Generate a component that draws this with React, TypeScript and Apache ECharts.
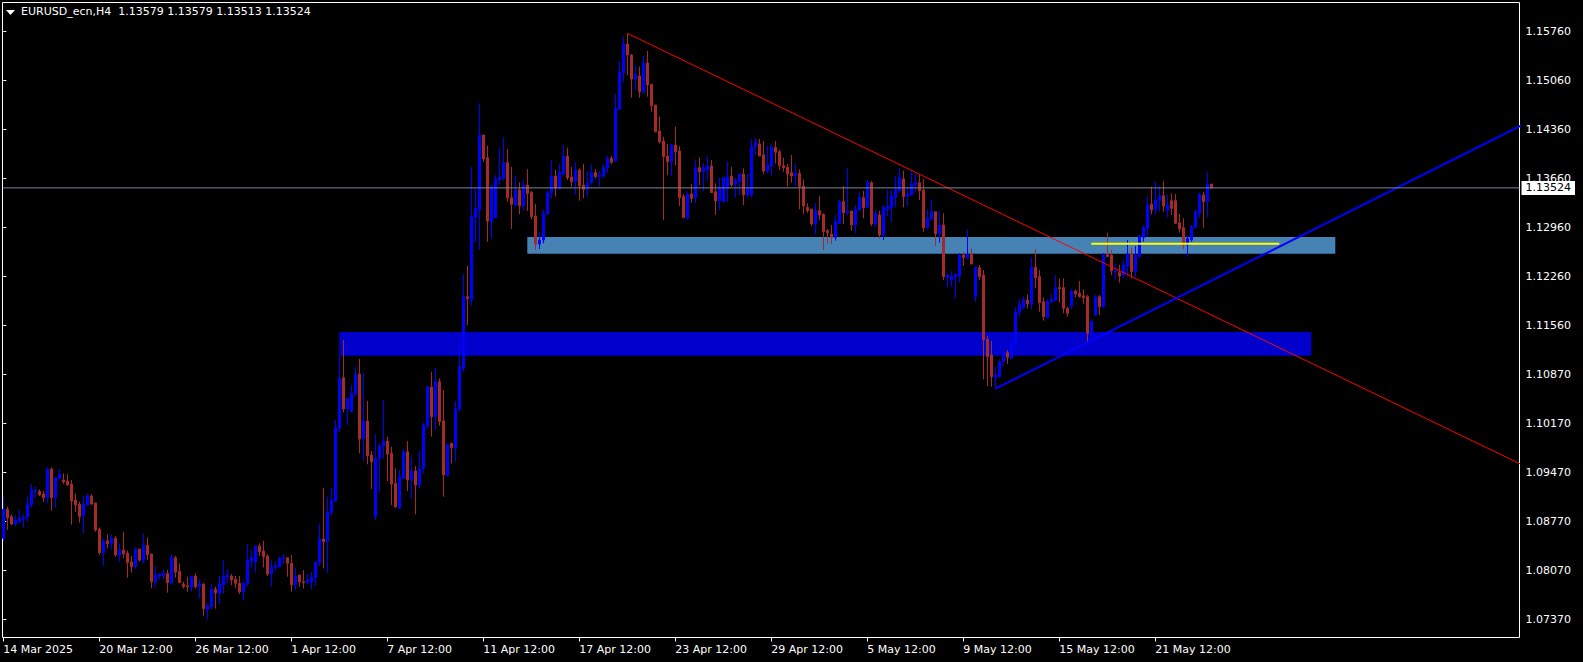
import React, { useEffect, useRef } from "react";
import * as echarts from "echarts";

// ---- data (EURUSD H4) ----
const chartTitle = "EURUSD_ecn,H4";
const lastBarQuote = ["1.13579", "1.13579", "1.13513", "1.13524"]; // O H L C
const bidPrice = 1.13524;

const priceTickValues = [1.0737, 1.0807, 1.0877, 1.0947, 1.1017, 1.1087, 1.1156, 1.1226, 1.1296, 1.1366, 1.1436, 1.1506, 1.1576];
const priceTickLabels = ["1.07370", "1.08070", "1.08770", "1.09470", "1.10170", "1.10870", "1.11560", "1.12260", "1.12960", "1.13660", "1.14360", "1.15060", "1.15760"];

const timeTickBars = [0, 24, 48, 72, 96, 120, 144, 168, 192, 216, 240, 264, 288];
const timeTickLabels = ["14 Mar 2025", "20 Mar 12:00", "26 Mar 12:00", "1 Apr 12:00", "7 Apr 12:00", "11 Apr 12:00", "17 Apr 12:00", "23 Apr 12:00", "29 Apr 12:00", "5 May 12:00", "9 May 12:00", "15 May 12:00", "21 May 12:00"];

// [open, close, low, high]
const candles: number[][] = [
  [1.08529,1.08943,1.08482,1.09123],[1.08943,1.08824,1.08648,1.0898],[1.08838,1.08733,1.08719,1.08871],[1.08733,1.08791,1.08705,1.08862],
  [1.08772,1.08819,1.08743,1.08943],[1.08805,1.08833,1.08681,1.08871],[1.08833,1.09018,1.08767,1.09123],[1.09009,1.09218,1.08971,1.09303],
  [1.09208,1.09218,1.09114,1.09266],[1.09199,1.09147,1.09133,1.09228],[1.09161,1.09109,1.09052,1.09204],[1.09109,1.09517,1.09028,1.09541],
  [1.09517,1.09109,1.08924,1.09541],[1.09109,1.09394,1.08966,1.09408],[1.0938,1.09446,1.0937,1.09517],[1.09361,1.09332,1.09304,1.09456],
  [1.09346,1.09289,1.0928,1.09446],[1.09304,1.09061,1.08724,1.09361],[1.09075,1.09004,1.08905,1.09171],[1.09018,1.08838,1.08753,1.09052],
  [1.08852,1.09018,1.086,1.09133],[1.09009,1.09133,1.0899,1.09161],[1.09133,1.09018,1.09004,1.09161],[1.09033,1.08648,1.08624,1.09033],
  [1.08662,1.08325,1.08292,1.08686],[1.08325,1.08487,1.0814,1.08529],[1.08491,1.08453,1.08387,1.08586],[1.08458,1.08529,1.08372,1.08586],
  [1.08529,1.08292,1.08268,1.08563],[1.08287,1.08363,1.08197,1.08458],[1.08363,1.08311,1.08244,1.08619],[1.0832,1.08183,1.07969,1.08353],
  [1.08192,1.08125,1.0804,1.08277],[1.08125,1.08377,1.08097,1.08401],[1.08377,1.0822,1.08197,1.08377],[1.08211,1.0843,1.08173,1.08591],
  [1.0843,1.08297,1.0822,1.08543],[1.08306,1.07912,1.07817,1.08306],[1.07912,1.08002,1.07831,1.08135],[1.07992,1.08016,1.07945,1.0804],
  [1.07997,1.0803,1.07945,1.08088],[1.0803,1.07898,1.07755,1.08078],[1.07897,1.08253,1.07864,1.08306],[1.08253,1.08049,1.07968,1.08277],
  [1.08059,1.07897,1.07897,1.08173],[1.07878,1.0784,1.07816,1.07911],[1.07854,1.0784,1.07769,1.07983],[1.07831,1.07992,1.07769,1.07992],
  [1.07992,1.0784,1.07816,1.0803],[1.0784,1.07878,1.07674,1.07945],[1.07878,1.07527,1.07427,1.07888],[1.07517,1.07565,1.07374,1.07603],
  [1.07555,1.07802,1.07517,1.07873],[1.07802,1.07755,1.07527,1.0784],[1.07745,1.07878,1.07593,1.07992],[1.07864,1.07992,1.07745,1.0822],
  [1.07978,1.08006,1.07888,1.08087],[1.07992,1.07935,1.07864,1.08021],[1.07945,1.07888,1.07816,1.07992],[1.07888,1.07769,1.07736,1.07992],
  [1.07769,1.07888,1.07641,1.07911],[1.07888,1.0822,1.0784,1.08448],[1.08211,1.08258,1.08116,1.08363],[1.08196,1.0842,1.0804,1.0842],
  [1.0842,1.08339,1.08277,1.08458],[1.08348,1.08268,1.08116,1.08496],[1.08277,1.08021,1.07992,1.08306],[1.08021,1.08116,1.0784,1.0822],
  [1.08116,1.08139,1.08068,1.08196],[1.08125,1.08249,1.08116,1.08268],[1.08239,1.08253,1.08158,1.08306],[1.08253,1.08173,1.07983,1.08253],
  [1.08173,1.07869,1.07769,1.08291],[1.07869,1.07992,1.07793,1.08116],[1.08006,1.07911,1.0784,1.08006],[1.07911,1.07897,1.07816,1.08078],
  [1.07897,1.07935,1.07878,1.08021],[1.07911,1.07973,1.07802,1.08054],[1.07968,1.08192,1.0785,1.08192],[1.08182,1.0852,1.08139,1.08733],
  [1.0852,1.08482,1.08101,1.09251],[1.08482,1.08909,1.0804,1.09123],[1.089,1.09076,1.08852,1.09242],[1.09061,1.10107,1.09052,1.10216],
  [1.10097,1.1081,1.1004,1.11142],[1.10819,1.10373,1.10325,1.11356],[1.10373,1.10525,1.10145,1.10534],[1.10335,1.10596,1.10325,1.10715],
  [1.10586,1.10867,1.10548,1.10976],[1.10871,1.09945,1.09741,1.11085],[1.09954,1.10202,1.09631,1.1089],[1.10202,1.09707,1.09584,1.10487],
  [1.09717,1.09622,1.09232,1.09774],[1.08838,1.09669,1.0879,1.10012],[1.09669,1.0985,1.09185,1.09883],[1.09845,1.09916,1.0966,1.10501],
  [1.09916,1.09731,1.09346,1.09978],[1.09741,1.09304,1.09004,1.09835],[1.09313,1.08981,1.08957,1.09527],[1.08957,1.09408,1.0895,1.09503],
  [1.09384,1.09764,1.09375,1.09802],[1.09764,1.09361,1.09204,1.09916],[1.09361,1.09489,1.09099,1.09693],[1.09489,1.09289,1.08871,1.0956],
  [1.09289,1.09517,1.09242,1.09774],[1.09527,1.10145,1.09456,1.10178],[1.10135,1.10691,1.10088,1.10691],[1.10686,1.10263,1.09978,1.10905],
  [1.10263,1.10762,1.10073,1.10952],[1.10762,1.10192,1.10135,1.1081],[1.10202,1.09432,1.09123,1.10643],[1.09422,1.09869,1.09422,1.09883],
  [1.09883,1.09821,1.09598,1.09893],[1.09821,1.10373,1.09622,1.10487],[1.10373,1.10976,1.10335,1.11332],[1.10952,1.11974,1.10905,1.12297],
  [1.11974,1.11945,1.1157,1.12411],[1.11917,1.13114,1.11845,1.13827],[1.131,1.13232,1.12757,1.13518],[1.13209,1.14278,1.12639,1.14729],
  [1.14278,1.13936,1.13898,1.14278],[1.13955,1.13052,1.12757,1.14126],[1.13043,1.13541,1.12805,1.13574],[1.131,1.13651,1.1309,1.13708],
  [1.13636,1.13679,1.13565,1.14088],[1.1366,1.13883,1.13636,1.14249],[1.13883,1.13385,1.13328,1.14078],[1.13385,1.1329,1.12938,1.13822],
  [1.1328,1.13494,1.13256,1.13698],[1.13494,1.13266,1.13147,1.13603],[1.13266,1.13565,1.13209,1.13636],[1.13565,1.13446,1.13195,1.13793],
  [1.13461,1.13114,1.13076,1.1348],[1.13123,1.12724,1.12639,1.13294],[1.12724,1.12781,1.12653,1.1289],[1.12781,1.13161,1.12734,1.13209],
  [1.13152,1.13461,1.13138,1.1348],[1.13456,1.13693,1.13366,1.13921],[1.13693,1.13518,1.13399,1.13779],[1.13518,1.13746,1.13494,1.1386],
  [1.13722,1.13978,1.13698,1.14135],[1.13978,1.1367,1.13636,1.14097],[1.13679,1.13612,1.13541,1.13822],[1.13612,1.13779,1.13423,1.13897],
  [1.13779,1.13551,1.13342,1.13802],[1.13565,1.13503,1.13375,1.13869],[1.13503,1.13589,1.13399,1.13764],[1.13598,1.13746,1.13574,1.1386],
  [1.13746,1.13684,1.1366,1.13793],[1.13684,1.13708,1.13541,1.13764],[1.13698,1.13817,1.1366,1.1386],[1.13812,1.13945,1.13741,1.13983],
  [1.13945,1.13888,1.1386,1.13978],[1.13907,1.14658,1.13898,1.14862],[1.14648,1.15171,1.14634,1.15323],[1.15161,1.15575,1.15038,1.1568],
  [1.15575,1.15418,1.15133,1.15727],[1.15418,1.15076,1.1481,1.15432],[1.15076,1.15133,1.14919,1.15275],[1.15119,1.14895,1.1481,1.15252],
  [1.14886,1.15304,1.14872,1.15404],[1.15304,1.1499,1.14824,1.15475],[1.15,1.14696,1.1461,1.15],[1.14705,1.14325,1.14316,1.14705],
  [1.14335,1.14183,1.14159,1.14539],[1.14192,1.13969,1.13067,1.14254],[1.13979,1.13898,1.13708,1.1415],[1.13898,1.14136,1.13693,1.1415],
  [1.14136,1.1404,1.1385,1.14397],[1.1405,1.13385,1.13266,1.14121],[1.13399,1.131,1.131,1.13437],[1.1309,1.13437,1.13076,1.1348],
  [1.13437,1.13375,1.13313,1.13579],[1.13385,1.13812,1.13304,1.13931],[1.13812,1.13755,1.13565,1.13955],[1.13755,1.13812,1.1347,1.13883],
  [1.13779,1.13836,1.13622,1.13978],[1.13836,1.13456,1.13456,1.13921],[1.1347,1.13337,1.13138,1.13589],[1.13337,1.13518,1.13209,1.13674],
  [1.13328,1.1367,1.13328,1.1367],[1.13518,1.13684,1.13328,1.13898],[1.13693,1.13565,1.13542,1.13826],[1.13579,1.13636,1.13385,1.1367],
  [1.13613,1.13722,1.13423,1.13722],[1.13722,1.13423,1.1328,1.13803],[1.13423,1.13518,1.13389,1.13722],[1.13423,1.14112,1.13389,1.14221],
  [1.14112,1.14169,1.13993,1.14245],[1.1415,1.13979,1.13979,1.14221],[1.13993,1.13765,1.13722,1.14192],[1.13765,1.1385,1.13732,1.14121],
  [1.13836,1.14102,1.13698,1.1415],[1.14102,1.14031,1.13874,1.14192],[1.1404,1.13841,1.13779,1.14064],[1.13841,1.13812,1.13755,1.13955],
  [1.13817,1.13722,1.13542,1.13865],[1.13741,1.13693,1.13599,1.13993],[1.13698,1.13732,1.13551,1.13874],[1.13732,1.13542,1.13218,1.13788],
  [1.13551,1.13266,1.13152,1.13646],[1.13247,1.132,1.13171,1.13304],[1.13223,1.1301,1.12981,1.13223],[1.1301,1.132,1.12867,1.13304],
  [1.132,1.13138,1.13067,1.13409],[1.13147,1.129,1.12639,1.13162],[1.12914,1.12886,1.12734,1.12938],[1.12867,1.12819,1.12724,1.12995],
  [1.12819,1.13043,1.12772,1.13138],[1.13019,1.13328,1.13009,1.13351],[1.13328,1.13171,1.13009,1.13551],[1.13171,1.13195,1.13138,1.13812],
  [1.13195,1.12995,1.12914,1.13195],[1.12995,1.13218,1.12876,1.1328],[1.13209,1.13385,1.13209,1.1347],[1.13385,1.13242,1.1309,1.1348],
  [1.13247,1.13598,1.13233,1.13636],[1.13598,1.13009,1.12981,1.13622],[1.13009,1.13161,1.12962,1.13209],[1.13138,1.12852,1.12805,1.13199],
  [1.12852,1.13242,1.12781,1.1328],[1.13218,1.13266,1.13123,1.13494],[1.13247,1.13408,1.13043,1.13494],[1.13389,1.13503,1.13247,1.13693],
  [1.13484,1.13674,1.1347,1.13803],[1.13651,1.13399,1.13247,1.13769],[1.13399,1.13437,1.13256,1.13541],[1.13423,1.13579,1.13413,1.13769],
  [1.13565,1.13598,1.13456,1.13731],[1.13598,1.13484,1.13351,1.13722],[1.13494,1.12957,1.129,1.13646],[1.12962,1.1309,1.12933,1.13218],
  [1.13081,1.13185,1.13057,1.13361],[1.13185,1.12867,1.12696,1.13185],[1.12867,1.12995,1.12743,1.13195],[1.12995,1.12259,1.12211,1.13161],
  [1.12249,1.12278,1.12107,1.12306],[1.12211,1.12268,1.12116,1.12339],[1.12259,1.12292,1.11959,1.12306],[1.12268,1.12567,1.12173,1.12591],
  [1.12567,1.12529,1.12411,1.12605],[1.12529,1.12582,1.12506,1.12924],[1.12582,1.12439,1.12439,1.12662],[1.11974,1.12392,1.11902,1.12401],
  [1.12387,1.12259,1.12211,1.12425],[1.12282,1.11356,1.10795,1.12354],[1.11366,1.11118,1.107,1.11413],[1.11142,1.10833,1.10691,1.11342],
  [1.10824,1.10857,1.10653,1.10976],[1.10833,1.11047,1.1081,1.1108],[1.11047,1.11142,1.10976,1.1119],[1.11175,1.11109,1.11014,1.11213],
  [1.11095,1.11299,1.11085,1.11318],[1.11285,1.1176,1.1127,1.11831],[1.11746,1.11865,1.11688,1.11936],[1.11822,1.11936,1.11793,1.11974],
  [1.11926,1.11869,1.11807,1.12007],[1.11869,1.12392,1.11793,1.1253],[1.12392,1.12244,1.12092,1.12653],[1.12259,1.11888,1.1176,1.12354],
  [1.11902,1.11689,1.11632,1.11964],[1.11674,1.11912,1.11665,1.11936],[1.11902,1.11936,1.11888,1.12012],[1.11926,1.12102,1.11902,1.12282],
  [1.12102,1.12088,1.11888,1.1223],[1.12102,1.11807,1.11736,1.12235],[1.11807,1.11736,1.11688,1.11831],[1.11845,1.12054,1.11793,1.12083],
  [1.12054,1.12012,1.11964,1.12078],[1.12021,1.11974,1.11959,1.12197],[1.11988,1.11959,1.11869,1.12078],[1.11974,1.11451,1.11332,1.11997],
  [1.11451,1.11617,1.11427,1.11651],[1.11712,1.11974,1.11698,1.11997],[1.11974,1.11831,1.11712,1.11997],[1.11831,1.12567,1.11817,1.12591],
  [1.12577,1.12544,1.12544,1.12886],[1.12567,1.12344,1.12282,1.12639],[1.1233,1.12344,1.12221,1.12449],[1.12316,1.12268,1.12173,1.12425],
  [1.12282,1.12425,1.12235,1.12496],[1.12401,1.12582,1.12259,1.12781],[1.12582,1.1233,1.12235,1.12672],[1.1233,1.12567,1.12249,1.12696],
  [1.12544,1.12838,1.12534,1.12853],[1.12819,1.12957,1.12757,1.12995],[1.12948,1.1328,1.12838,1.13399],[1.13294,1.13209,1.13147,1.13541],
  [1.13218,1.13351,1.13138,1.13613],[1.13342,1.13413,1.13185,1.13551],[1.13413,1.13266,1.13185,1.13622],[1.13209,1.1328,1.13104,1.13432],
  [1.13342,1.13233,1.13138,1.13446],[1.13342,1.13019,1.13009,1.13437],[1.13028,1.12938,1.12886,1.13152],[1.12957,1.1271,1.12648,1.1309],
  [1.1271,1.12805,1.12544,1.12853],[1.12781,1.12971,1.12757,1.12995],[1.12962,1.13185,1.12948,1.13218],[1.13161,1.13432,1.13104,1.13456],
  [1.13423,1.13328,1.12957,1.1347],[1.13328,1.13579,1.13104,1.13746],[1.13579,1.13524,1.13513,1.13579],
];

// rectangles (bar index from/to, price top/bottom)
const zoneFromBar = [84, 131];
const zoneToBar = [327, 333];
const zoneTop = [1.1147, 1.12824];
const zoneBottom = [1.11132, 1.12586];

// trend lines [bar, price]
const downTrendLine = [[156, 1.15727], [380, 1.09569]];
const upTrendLine = [[248, 1.10662], [380, 1.14427]];
const levelLine = [[272, 1.12729], [319, 1.12729]];

const FONT = "DejaVu Sans";

export default function App() {
  const ref = useRef<HTMLDivElement>(null);

  useEffect(() => {
    if (!ref.current) return;
    const chart = echarts.init(ref.current, undefined, { renderer: "svg" });

    const candleData = candles.map((c, i) => [i, c[0], c[1], c[2], c[3]]);
    const zoneData = zoneFromBar.map((f, k) => [f, zoneToBar[k], zoneTop[k], zoneBottom[k], k]);
    const zoneColors = ["#0000CD", "#4682B4"];

    const option: any = {
      animation: false,
      backgroundColor: "#000000",
      grid: {
        left: 2.5,
        top: 2.5,
        width: 1517,
        height: 635,
        show: true,
        borderColor: "#ffffff",
        borderWidth: 1,
        backgroundColor: "#000000",
      },
      xAxis: {
        type: "value",
        min: -0.2,
        max: 379.05,
        axisLine: { show: false },
        splitLine: { show: false },
        axisTick: { show: true, length: 4, customValues: timeTickBars, lineStyle: { color: "#ffffff" } },
        axisLabel: {
          customValues: timeTickBars,
          formatter: (v: number) => timeTickLabels[timeTickBars.indexOf(Math.round(v))] ?? "",
          color: "#ffffff",
          fontFamily: FONT,
          fontSize: 11,
          align: "left",
          margin: 6,
        },
      },
      yAxis: {
        type: "value",
        position: "right",
        min: 1.071161,
        max: 1.161662,
        scale: true,
        axisLine: { show: false },
        splitLine: { show: false },
        axisTick: { show: true, length: 3, customValues: priceTickValues, lineStyle: { color: "#ffffff" } },
        axisLabel: {
          customValues: priceTickValues,
          formatter: (v: number) => {
            let best = 0;
            priceTickValues.forEach((t, k) => { if (Math.abs(t - v) < Math.abs(priceTickValues[best] - v)) best = k; });
            return priceTickLabels[best];
          },
          color: "#ffffff",
          fontFamily: FONT,
          fontSize: 11,
          margin: 6,
        },
      },
      series: [
        {
          type: "custom",
          z: 1,
          silent: true,
          clip: true,
          encode: { x: [0, 1], y: [2, 3] },
          data: zoneData,
          renderItem: (params: any, api: any) => {
            const p1 = api.coord([api.value(0), api.value(2)]);
            const p2 = api.coord([api.value(1), api.value(3)]);
            return {
              type: "rect",
              shape: { x: p1[0], y: p1[1], width: p2[0] - p1[0], height: p2[1] - p1[1] },
              style: { fill: zoneColors[api.value(4)] },
            };
          },
        },
        {
          type: "candlestick",
          z: 3,
          silent: true,
          barWidth: 2,
          data: candleData,
          itemStyle: {
            color: "#0000FF",
            color0: "#A52A2A",
            borderColor: "#0000FF",
            borderColor0: "#A52A2A",
            borderWidth: 1,
          },
        },
        {
          type: "line",
          z: 4,
          silent: true,
          showSymbol: false,
          clip: true,
          data: downTrendLine,
          lineStyle: { color: "#FF0000", width: 1 },
        },
        {
          type: "line",
          z: 4,
          silent: true,
          showSymbol: false,
          clip: true,
          data: upTrendLine,
          lineStyle: { color: "#0000FF", width: 2 },
        },
        {
          type: "line",
          z: 4,
          silent: true,
          showSymbol: false,
          clip: true,
          data: levelLine,
          lineStyle: { color: "#FFFF00", width: 2 },
        },
        {
          type: "line",
          z: 5,
          silent: true,
          showSymbol: false,
          data: [[0, bidPrice], [379.05, bidPrice]],
          lineStyle: { color: "#778899", width: 1 },
          endLabel: {
            show: true,
            formatter: () => bidPrice.toFixed(5),
            backgroundColor: "#ffffff",
            color: "#000000",
            fontFamily: FONT,
            fontSize: 11,
            padding: [2, 4, 1, 4],
            distance: 2,
          },
        },
      ],
      graphic: [
        {
          type: "polygon",
          shape: { points: [[6, 10], [15, 10], [10.5, 15]] },
          style: { fill: "#ffffff" },
          z: 10,
        },
        {
          type: "text",
          left: 21,
          top: 6,
          z: 10,
          style: {
            text: chartTitle + "\u00a0 " + lastBarQuote.join(" "),
            fill: "#ffffff",
            font: `11px "${FONT}"`,
          },
        },
      ],
    };

    chart.setOption(option);
    return () => chart.dispose();
  }, []);

  return (
    <div
      ref={ref}
      style={{ position: "fixed", left: 0, top: 0, width: 1583, height: 662, background: "#000" }}
    />
  );
}
